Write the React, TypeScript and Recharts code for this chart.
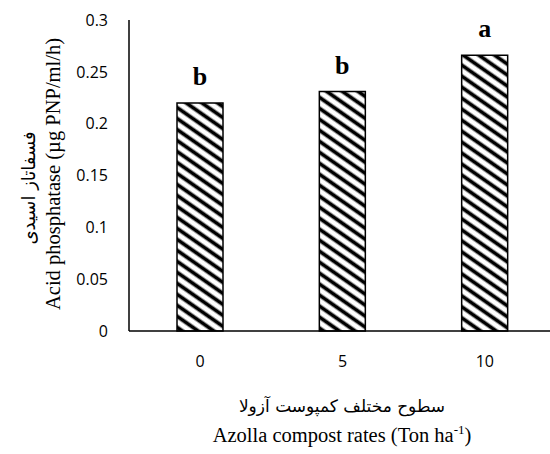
import React from "react"
import { BarChart, Bar, XAxis, YAxis, LabelList } from "recharts"

const rates = ["0", "5", "10"]
const activity = [0.22, 0.231, 0.266]
const letters = ["b", "b", "a"]
const yTicks = [0, 0.05, 0.1, 0.15, 0.2, 0.25, 0.3]

const data = rates.map((r, i) => ({ rate: r, value: activity[i], letter: letters[i] }))

const serif = "'Liberation Serif', 'Times New Roman', serif"
const sans = "'Open Sans', 'Noto Sans', sans-serif"
const persian = "'DejaVu Sans', sans-serif"

function YTitle() {
  return (
    <g>
      <text transform="translate(35, 188) rotate(-90)" textAnchor="middle" fontFamily={persian} fontSize={18} fill="#000">
        فسفاتاز اسیدی
      </text>
      <text transform="translate(60, 174) rotate(-90)" textAnchor="middle" fontFamily={serif} fontSize={20.5} fill="#000">
        Acid phosphatase (µg PNP/ml/h)
      </text>
    </g>
  )
}

function XTitle() {
  return (
    <g>
      <text x={342} y={412} textAnchor="middle" fontFamily={persian} fontSize={17} fill="#000">
        سطوح مختلف کمپوست آزولا
      </text>
      <text x={342} y={442} textAnchor="middle" fontFamily={serif} fontSize={20.5} fill="#000">
        Azolla compost rates (Ton ha
        <tspan fontSize={13} dy={-8}>-1</tspan>
        <tspan dy={8}>)</tspan>
      </text>
    </g>
  )
}

export default function App() {
  return (
    <div style={{ position: "fixed", left: 0, top: 0, width: 550, height: 454, overflow: "hidden", background: "#fff" }}>
      <svg width={0} height={0} style={{ position: "absolute" }}>
        <defs>
          <pattern id="hatch" patternUnits="userSpaceOnUse" width={9} height={9} patternTransform="rotate(35)">
            <rect width={9} height={9} fill="#fff" />
            <line x1={0} y1={4.5} x2={9} y2={4.5} stroke="#000" strokeWidth={3.8} />
          </pattern>
        </defs>
      </svg>
      <BarChart width={556} height={454} data={data} margin={{ top: 20, right: 0, bottom: 0, left: 0 }} barSize={46}>
        <XAxis
          dataKey="rate"
          height={123}
          tickLine={false}
          axisLine={{ stroke: "#000", strokeWidth: 1.5 }}
          tick={{ fill: "#000", fontSize: 16, fontFamily: sans }}
          tickMargin={19}
          label={{ content: () => <XTitle /> }}
        />
        <YAxis
          width={129}
          domain={[0, 0.3]}
          ticks={yTicks}
          interval={0}
          tickLine={false}
          axisLine={{ stroke: "#000", strokeWidth: 1.5 }}
          tick={{ fill: "#000", fontSize: 16, fontFamily: sans }}
          tickMargin={15}
          tickFormatter={(v: number) => String(v)}
          label={{ content: () => <YTitle /> }}
        />
        <Bar dataKey="value" fill="url(#hatch)" stroke="#000" strokeWidth={1.5} isAnimationActive={false}>
          <LabelList dataKey="letter" position="top" offset={18} fill="#000" fontFamily={serif} fontWeight="bold" fontSize={26} />
        </Bar>
      </BarChart>
    </div>
  )
}
